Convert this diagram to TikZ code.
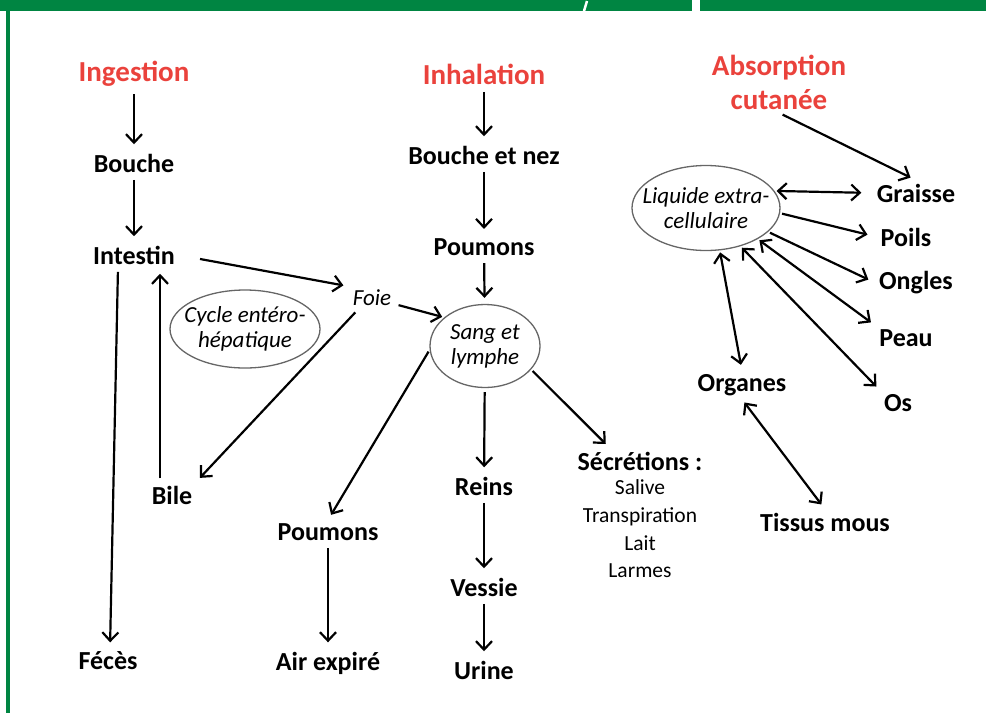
\documentclass[tikz,border=0pt]{standalone}
\usepackage{fontspec}
\setmainfont{Carlito}
\usetikzlibrary{arrows.meta,shapes.geometric,positioning}
\definecolor{headred}{RGB}{234,66,60}
\definecolor{bargreen}{RGB}{0,133,66}

\begin{document}
\begin{tikzpicture}[
                x=1pt, y=-1pt,
                >={Straight Barb[length=8.5pt,width=16pt,line width=2.2pt]},
                head/.style={text=headred, font=\fontsize{29}{34}\selectfont\bfseries, align=center},
                organ/.style={font=\fontsize{26}{30}\selectfont\bfseries},
                fluid/.style={ellipse, draw=black!60, line width=1.3pt, inner sep=0pt},
                fluidtext/.style={align=center, font=\fontsize{23}{25}\selectfont\itshape},
                flow/.style={line width=2.2pt, shorten >=6pt, shorten <=4pt}
            ]
            \useasboundingbox (0,0) rectangle (986,713);

            % Frame
            \fill[bargreen] (0,0) rectangle (692,11);
            \fill[bargreen] (700,0) rectangle (986,11);
            \fill[bargreen] (6,11) rectangle (10,713);
            \draw[white, line width=2.5pt] (587,1) -- (584,11);

            % Entry routes
            \node[head] (ingest) at (134,74) {Ingestion};
            \node[head] (inhal) at (484,74) {Inhalation};
            \node[head] (absorp) at (779,82) {Absorption\\cutanée};

            % Ingestion column
            \node[organ] (bouche) at (134,163) {Bouche};
            \node[organ] (intestin) at (134,255) {Intestin};
            \node[organ] (bile) at (172,495) {Bile};
            \node[organ] (feces) at (108,661) {Fécès};
            \node[fluid, minimum width=150pt, minimum height=78pt] (cycle) at (245,329) {};
            \node[fluidtext] (cycletxt) at (cycle) {Cycle entéro-\\hépatique};
            \node[fluidtext] (foie) at (372,298) {Foie};

            % Inhalation column
            \node[organ] (bnez) at (484,155) {Bouche et nez};
            \node[organ] (poumons) at (484,247) {Poumons};
            \node[fluid, minimum width=110pt, minimum height=83pt] (sang) at (485,346) {};
            \node[fluidtext] (sangtxt) at (sang) {Sang et\\lymphe};
            \node[organ] (reins) at (484,486) {Reins};
            \node[organ] (vessie) at (484,587) {Vessie};
            \node[organ] (urine) at (484,670) {Urine};
            \node[organ] (poumons2) at (328,532) {Poumons};
            \node[organ] (air) at (328,663) {Air expiré};
            \node[organ] (secr) at (640,461) {Sécrétions :};
            \node[align=center, font=\fontsize{21.5}{27.7}\selectfont] (secrlist) at (640,529) {Salive\\Transpiration\\Lait\\Larmes};

            % Skin column
            \node[fluid, minimum width=148pt, minimum height=85pt] (liquide) at (706,208) {};
            \node[fluidtext] (liquidetxt) at (liquide) {Liquide extra-\\cellulaire};
            \node[organ] (graisse) at (916,193) {Graisse};
            \node[organ] (poils) at (906,237) {Poils};
            \node[organ] (ongles) at (916,283) {Ongles};
            \node[organ] (peau) at (906,338) {Peau};
            \node[organ] (os) at (898,403) {Os};
            \node[organ] (organes) at (742,385) {Organes};
            \node[organ] (tissus) at (825,522) {Tissus mous};

            % Edges
            \draw[->, flow] (ingest) -- (bouche);
            \draw[->, flow] (bouche) -- (intestin);
            \draw[->, flow] ([xshift=-16pt]intestin.south) -- ([xshift=2pt]feces.north);
            \draw[->, flow] ([xshift=-12pt]bile.north) -- ([xshift=26pt]intestin.south);
            \draw[->, flow, shorten <=22pt] (intestin.east) -- (foie.north west);
            \draw[->, flow] ([xshift=-14pt]foie.south) -- (bile.north east);
            \draw[->, flow, shorten >=2pt] (foie) -- (sang.145);
            \draw[->, flow] (inhal) -- (bnez);
            \draw[->, flow] (bnez) -- (poumons);
            \draw[->, flow] (poumons) -- (sang);
            \draw[->, flow, shorten <=2pt] (sang.184) -- (poumons2.north);
            \draw[->, flow] (sang) -- (reins);
            \draw[->, flow] (reins) -- (vessie);
            \draw[->, flow] (vessie) -- (urine);
            \draw[->, flow, shorten <=2pt] (sang.-27) -- ([xshift=-30pt]secr.north);
            \draw[->, flow] (poumons2) -- (air);
            \draw[->, flow] (absorp.south) -- (graisse.north);
            \draw[<->, flow, shorten <=2pt, shorten >=12pt] (liquide.14) -- (graisse.west);
            \draw[->, flow, shorten <=2pt, shorten >=10pt] (liquide.-4) -- (poils.west);
            \draw[->, flow, shorten <=2pt, shorten >=8pt] (liquide.-21) -- (ongles.west);
            \draw[<->, flow, shorten <=2pt] (liquide.-31) -- (peau.north west);
            \draw[<->, flow, shorten <=2pt] (liquide.-48) -- (os.north west);
            \draw[<->, flow, shorten <=2pt] (liquide.-72) -- (organes.north);
            \draw[<->, flow] (organes.south) -- (tissus.north);

        \end{tikzpicture}
\end{document}
